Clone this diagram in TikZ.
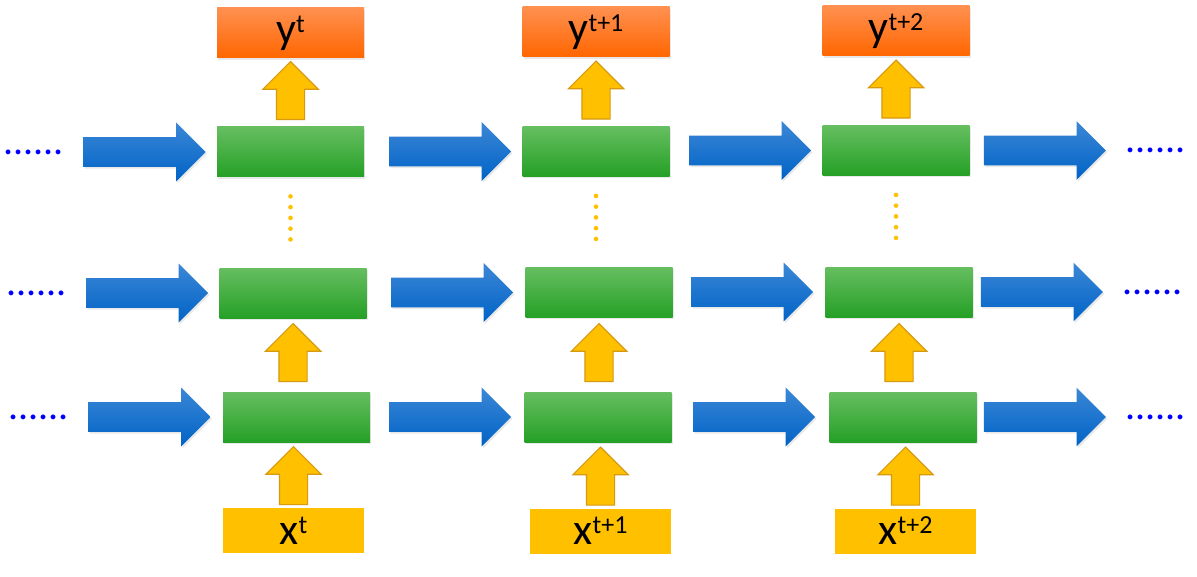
\documentclass[tikz,border=0pt]{standalone}
\usepackage{fontspec}
\setmainfont{Carlito}
\usetikzlibrary{positioning,calc,shapes.arrows,shadows}

\definecolor{celltop}{HTML}{66BE60}
\definecolor{cellmid}{HTML}{3AB332}
\definecolor{cellbot}{HTML}{25A026}
\definecolor{outtop}{HTML}{FF9050}
\definecolor{outmid}{HTML}{FF7A22}
\definecolor{outbot}{HTML}{FF6600}
\definecolor{flowtop}{HTML}{3C87D6}
\definecolor{flowmid}{HTML}{0A69CC}
\definecolor{flowbot}{HTML}{0063C6}
\definecolor{gold}{HTML}{FFC000}
\definecolor{goldedge}{HTML}{D69A12}
\definecolor{dotblue}{HTML}{0000FF}

\newcommand\tsup[1]{\raisebox{5.5pt}{\fontsize{13}{13}\selectfont #1}}

\tikzset{
  softshadow/.style={drop shadow={opacity=0.18, shadow xshift=0.7pt, shadow yshift=-0.9pt}},
  cell/.style={minimum width=73.5pt, minimum height=25pt, inner sep=0pt,
    top color=celltop, middle color=cellmid, bottom color=cellbot, softshadow},
  outbox/.style={minimum width=73.5pt, minimum height=25pt, inner sep=0pt,
    top color=outtop, middle color=outmid, bottom color=outbot, softshadow,
    font=\fontsize{22}{24}\selectfont},
  inbox/.style={minimum width=70.5pt, minimum height=22.5pt, inner sep=0pt,
    fill=gold, font=\fontsize{22}{24}\selectfont},
  flow/.style={single arrow, minimum height=61pt, inner sep=7.25pt, outer sep=0pt,
    single arrow head extend=7.25pt, single arrow tip angle=90,
    top color=flowtop, middle color=flowmid, bottom color=flowbot, softshadow},
  lift/.style={single arrow, shape border rotate=90, minimum height=29pt,
    inner sep=6.75pt, outer sep=0pt, single arrow head extend=6.75pt,
    single arrow tip angle=90, fill=gold, draw=goldedge, line width=0.6pt,
    anchor=tail},
  more/.style={text=dotblue, inner sep=0pt, font=\fontsize{20}{20}\selectfont},
  vdots/.style={draw=gold, line width=2.3pt, line cap=round,
    dash pattern=on 0pt off 5.38pt, shorten <=9.5pt, shorten >=9pt},
}

\begin{document}
\begin{tikzpicture}[x=0.5pt, y=-0.5pt]
  \useasboundingbox (0,0) rectangle (1197,577);

  % outputs
  \node[outbox] (y1) at (290.5,33) {y\tsup{t}};
  \node[outbox] (y2) at (596,32) {y\tsup{t+1}};
  \node[outbox] (y3) at (896,31) {y\tsup{t+2}};

  % top layer
  \node[cell] (t1) at (290.5,152) {};
  \node[cell] (t2) at (596,151.5) {};
  \node[cell] (t3) at (896,150.5) {};

  % middle layer
  \node[cell] (m1) at (293,293) {};
  \node[cell] (m2) at (599,292.5) {};
  \node[cell] (m3) at (899,292) {};

  % bottom layer
  \node[cell] (b1) at (296.5,417) {};
  \node[cell] (b2) at (598,417) {};
  \node[cell] (b3) at (903,417) {};

  % inputs
  \node[inbox] (x1) at (293.5,530.5) {x\tsup{t}};
  \node[inbox] (x2) at (600.5,531) {x\tsup{t+1}};
  \node[inbox] (x3) at (905.5,531) {x\tsup{t+2}};

  % arrows along time
  \node[flow, left=5.5pt of t1] (ft0) {};
  \node[flow, left=5.5pt of t2] (ft1) {};
  \node[flow, left=5.5pt of t3] (ft2) {};
  \node[flow, right=7pt of t3] (ft3) {};
  \node[flow, left=5.5pt of m1] (fm0) {};
  \node[flow, left=6pt of m2] (fm1) {};
  \node[flow, left=6pt of m3] (fm2) {};
  \node[flow, right=4pt of m3] (fm3) {};
  \node[flow, left=6pt of b1] (fb0) {};
  \node[flow, left=6.5pt of b2] (fb1) {};
  \node[flow, left=7pt of b3] (fb2) {};
  \node[flow, right=3.5pt of b3] (fb3) {};

  % arrows up
  \node[lift] (ux1) at ([yshift=1.5pt]x1.north) {};
  \node[lift] (ux2) at ([yshift=1.5pt]x2.north) {};
  \node[lift] (ux3) at ([yshift=1.5pt]x3.north) {};
  \node[lift] (ub1) at ([yshift=5pt]m1.south |- b1.north) {};
  \node[lift] (ub2) at ([yshift=5pt]m2.south |- b2.north) {};
  \node[lift] (ub3) at ([yshift=5pt]m3.south |- b3.north) {};
  \node[lift] (uy1) at ([yshift=3.5pt]t1.north) {};
  \node[lift] (uy2) at ([yshift=3.5pt]t2.north) {};
  \node[lift] (uy3) at ([yshift=3.5pt]t3.north) {};

  % skipped layers
  \draw[vdots] (t1.south) -- (t1.south |- m1.north);
  \draw[vdots] (t2.south) -- (t2.south |- m2.north);
  \draw[vdots] (t3.south) -- (t3.south |- m3.north);

  % more steps
  \node[more, left=9.5pt of ft0] (lt) {......};
  \node[more, left=9.5pt of fm0] (lm) {......};
  \node[more, left=9.5pt of fb0] (lb) {......};
  \node[more, right=9.5pt of ft3] (rt) {......};
  \node[more, right=9.5pt of fm3] (rm) {......};
  \node[more, right=9.5pt of fb3] (rb) {......};
\end{tikzpicture}
\end{document}
